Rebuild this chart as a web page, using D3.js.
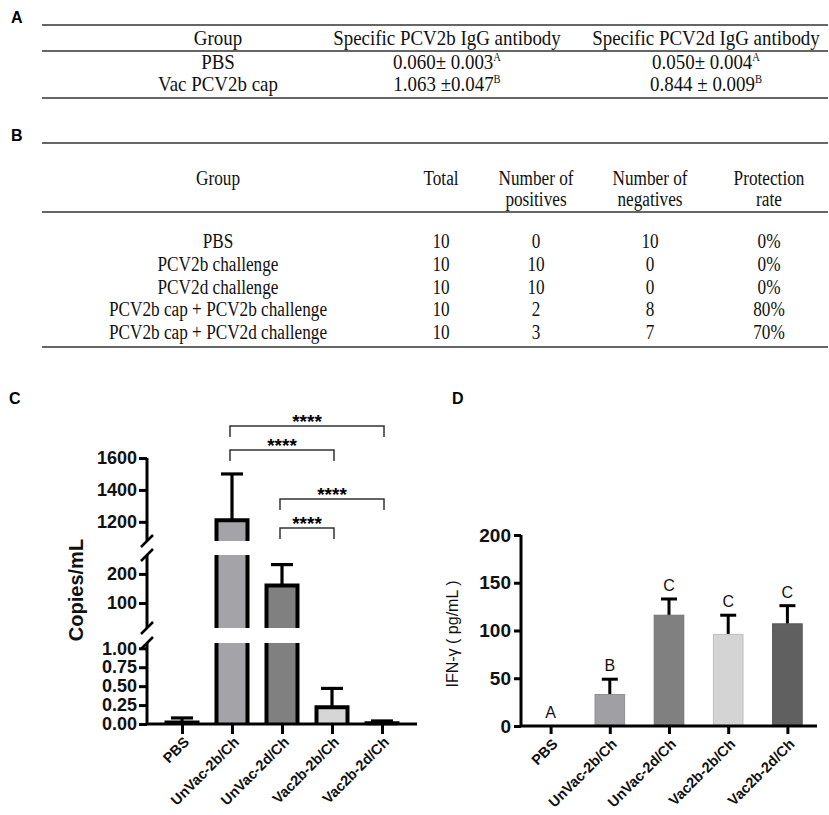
<!DOCTYPE html>
<html>
<head>
<meta charset="utf-8">
<script src="https://cdn.jsdelivr.net/npm/d3@7"></script>
<style>
  body { margin: 0; background: #fff; }
  svg { display: block; }
</style>
</head>
<body>
<svg id="fig" width="829" height="815"></svg>
<script>
// ---- table A data
const tableAHeader = ["Group", "Specific PCV2b IgG antibody", "Specific PCV2d IgG antibody"];
const tableAGroups = ["PBS", "Vac PCV2b cap"];
const tableA2b = ["0.060± 0.003", "1.063 ±0.047"];
const tableA2d = ["0.050± 0.004", "0.844 ± 0.009"];
const tableALetters = ["A", "B"];

// ---- table B data
const tableBHeader = [["Group"], ["Total"], ["Number of", "positives"], ["Number of", "negatives"], ["Protection", "rate"]];
const tableBGroups = ["PBS", "PCV2b challenge", "PCV2d challenge", "PCV2b cap + PCV2b challenge", "PCV2b cap + PCV2d challenge"];
const tableBTotal = [10, 10, 10, 10, 10];
const tableBPos = [0, 10, 10, 2, 3];
const tableBNeg = [10, 0, 0, 8, 7];
const tableBRate = ["0%", "0%", "0%", "80%", "70%"];

// ---- chart C / D data
const groups = ["PBS", "UnVac-2b/Ch", "UnVac-2d/Ch", "Vac2b-2b/Ch", "Vac2b-2d/Ch"];
const copiesMean = [0.02, 1210, 160, 0.22, 0.01];
const copiesErr = [0.08, 1500, 232, 0.47, 0.04]; // top of error bar
const copiesTicksLow = [0, 0.25, 0.5, 0.75, 1.0];
const copiesTicksMid = [100, 200];
const copiesTicksHigh = [1200, 1400, 1600];
const sigPairs = [["UnVac-2b/Ch", "Vac2b-2d/Ch"], ["UnVac-2b/Ch", "Vac2b-2b/Ch"], ["UnVac-2d/Ch", "Vac2b-2d/Ch"], ["UnVac-2d/Ch", "Vac2b-2b/Ch"]];
const sigLabels = ["****", "****", "****", "****"];

const ifnMean = [0, 33, 116, 96, 107];
const ifnErr = [0, 49, 133, 116, 126];
const ifnLetters = ["A", "B", "C", "C", "C"];
const ifnTicks = [0, 50, 100, 150, 200];

const svg = d3.select("#fig");
const serif = "'Liberation Serif', 'Times New Roman', serif";
const sans = "Arial, 'Liberation Sans', sans-serif";

function panelLabel(txt, x, y) {
	svg.append("text").attr("x", x).attr("y", y)
		.attr("font-family", sans).attr("font-weight", "bold").attr("font-size", 16)
		.text(txt);
}

// table cell: tall narrow serif like the scanned table
function cell(g, x, y, sx) {
	return g.append("text")
		.attr("transform", `translate(${x},${y}) scale(${sx},1)`)
		.attr("text-anchor", "middle");
}

// ================= A =================
panelLabel("A", 11, 23);
const gA = svg.append("g").attr("font-family", serif).attr("font-size", 21.5).attr("fill", "#111");
const sxA = 0.88;
const colA = [218, 447, 706];
[25, 51, 98].forEach((y) => {
	gA.append("line").attr("x1", 42).attr("x2", 828).attr("y1", y).attr("y2", y)
		.attr("stroke", "#333").attr("stroke-width", 1.6);
});
tableAHeader.forEach((h, i) => cell(gA, colA[i], 45, sxA).text(h));
tableAGroups.forEach((grp, i) => {
	const y = 69 + i * 22;
	cell(gA, colA[0], y, sxA).text(grp);
	[tableA2b, tableA2d].forEach((col, c) => {
		const t = cell(gA, colA[c + 1], y, sxA);
		t.append("tspan").text(col[i]);
		t.append("tspan").attr("dy", -8).attr("font-size", 12).text(tableALetters[i]);
	});
});

// ================= B =================
panelLabel("B", 11, 141);
const gB = svg.append("g").attr("font-family", serif).attr("font-size", 20.5).attr("fill", "#111");
const sxB = 0.84;
const colB = [218, 441, 536, 650, 769];
[143, 212, 347].forEach((y) => {
	gB.append("line").attr("x1", 42).attr("x2", 828).attr("y1", y).attr("y2", y)
		.attr("stroke", "#333").attr("stroke-width", 1.6);
});
tableBHeader.forEach((lines, i) => {
	lines.forEach((l, k) => cell(gB, colB[i], 185 + k * 21, sxB).text(l));
});
const tableBRows = tableBGroups.map((g, i) => [g, tableBTotal[i], tableBPos[i], tableBNeg[i], tableBRate[i]]);
tableBRows.forEach((row, r) => {
	row.forEach((v, c) => cell(gB, colB[c], 248 + r * 22.8, sxB).text(v));
});

// ================= C =================
panelLabel("C", 9, 404);
const gC = svg.append("g");
const xC = d3.scalePoint().domain(groups).range([147, 417]).padding(0.7);
const bwC = xC.step() * 0.62;
const baseC = 724;
const segs = [
	{ y: d3.scaleLinear().domain([0, 1.07]).range([baseC, 643]), ticks: copiesTicksLow, fmt: d3.format(".2f") },
	{ y: d3.scaleLinear().domain([14, 265]).range([628, 555]), ticks: copiesTicksMid, fmt: d3.format("d") },
	{ y: d3.scaleLinear().domain([1080, 1600]).range([541, 458]), ticks: copiesTicksHigh, fmt: d3.format("d") }
];
const colorC = d3.scaleOrdinal().domain(groups).range(["#ffffff", "#a4a4a8", "#808080", "#d6d6d6", "#ffffff"]);

segs.forEach((s, si) => {
	const [lo, hi] = s.y.domain();
	const bars = groups.map((g, i) => ({ g, i, m: copiesMean[i], e: copiesErr[i] }))
		.filter((d) => d.m > lo);
	const bg = gC.append("g");
	bars.forEach((d) => {
		const x0 = xC(d.g) - bwC / 2;
		const top = Math.min(d.m, hi);
		const bot = si === 0 ? 0 : lo;
		const yT = s.y(top), yB = s.y(bot);
		// error bar (only where the mean ends in this segment)
		if (d.m <= hi) {
			bg.append("line").attr("x1", xC(d.g)).attr("x2", xC(d.g))
				.attr("y1", s.y(d.m)).attr("y2", s.y(d.e)).attr("stroke", "#000").attr("stroke-width", 3.2);
			bg.append("line").attr("x1", xC(d.g) - 11).attr("x2", xC(d.g) + 11)
				.attr("y1", s.y(d.e)).attr("y2", s.y(d.e)).attr("stroke", "#000").attr("stroke-width", 3.2);
		}
		bg.append("rect").attr("x", x0).attr("y", yT).attr("width", bwC).attr("height", Math.max(0, yB - yT))
			.attr("fill", colorC(d.g));
		let p = `M${x0},${yB}L${x0},${yT}`;
		if (d.m <= hi) p += `L${x0 + bwC},${yT}`; else p += `M${x0 + bwC},${yT}`;
		p += `L${x0 + bwC},${yB}`;
		bg.append("path").attr("d", p).attr("fill", "none").attr("stroke", "#000").attr("stroke-width", 4);
	});
	// axis segment
	const ax = gC.append("g").attr("transform", "translate(147,0)")
		.call(d3.axisLeft(s.y).tickValues(s.ticks).tickFormat(s.fmt).tickSize(8).tickPadding(2));
	ax.select(".domain").attr("d", `M0,${s.y.range()[0]}V${s.y.range()[1]}`).attr("stroke-width", 3);
	ax.selectAll(".tick line").attr("stroke-width", 3);
	ax.selectAll(".tick text").attr("font-family", sans).attr("font-weight", "bold")
		.attr("font-size", 18).attr("fill", "#111");
	// break slashes
	const ends = [];
	if (si > 0) ends.push(s.y.range()[0]);
	if (si < segs.length - 1) ends.push(s.y.range()[1]);
	ends.forEach((yy) => {
		gC.append("line").attr("x1", 141).attr("x2", 153).attr("y1", yy + 6).attr("y2", yy - 6)
			.attr("stroke", "#000").attr("stroke-width", 2.5);
	});
});

// x axis C
const axC = gC.append("g").attr("transform", `translate(0,${baseC})`)
	.call(d3.axisBottom(xC).tickSize(10).tickFormat(""));
axC.select(".domain").attr("d", "M147,0H417").attr("stroke-width", 3);
axC.selectAll(".tick line").attr("stroke-width", 3);
gC.selectAll("text.xl").data(groups).join("text").attr("class", "xl")
	.attr("transform", (d) => `translate(${xC(d) + 8},${baseC + 19}) rotate(-45)`)
	.attr("text-anchor", "end").attr("font-family", sans).attr("font-weight", "bold")
	.attr("font-size", 14.5).attr("fill", "#111").text((d) => d);

gC.append("text").attr("transform", "translate(83,590) rotate(-90)")
	.attr("text-anchor", "middle").attr("font-family", sans).attr("font-weight", "bold")
	.attr("font-size", 20).attr("fill", "#111").text("Copies/mL");

// significance brackets
const sigY = [426, 450, 499, 528];
sigPairs.forEach((pr, i) => {
	const xa = xC(pr[0]) - 2, xb = xC(pr[1]) + 2, yy = sigY[i];
	gC.append("path").attr("d", `M${xa},${yy + 11}V${yy}H${xb}V${yy + 11}`)
		.attr("fill", "none").attr("stroke", "#333").attr("stroke-width", 1.5);
	gC.append("text").attr("x", (xa + xb) / 2).attr("y", yy + 2).attr("text-anchor", "middle")
		.attr("font-family", sans).attr("font-weight", "bold").attr("font-size", 19).text(sigLabels[i]);
});

// ================= D =================
panelLabel("D", 452, 404);
const gD = svg.append("g");
const xD = d3.scalePoint().domain(groups).range([521, 817]).padding(0.5);
const yD = d3.scaleLinear().domain([0, 200]).range([726, 535]);
const bwD = xD.step() * 0.5;
const colorD = d3.scaleOrdinal().domain(groups).range(["#ffffff", "#a0a0a4", "#808080", "#d4d4d4", "#606060"]);

groups.forEach((g, i) => {
	const cx = xD(g);
	if (ifnErr[i] > ifnMean[i]) {
		gD.append("line").attr("x1", cx).attr("x2", cx).attr("y1", yD(ifnMean[i])).attr("y2", yD(ifnErr[i]))
			.attr("stroke", "#000").attr("stroke-width", 3);
		gD.append("line").attr("x1", cx - 8).attr("x2", cx + 8).attr("y1", yD(ifnErr[i])).attr("y2", yD(ifnErr[i]))
			.attr("stroke", "#000").attr("stroke-width", 3);
	}
	gD.append("rect").attr("x", cx - bwD / 2).attr("y", yD(ifnMean[i])).attr("width", bwD)
		.attr("height", yD(0) - yD(ifnMean[i])).attr("fill", colorD(g))
		.attr("stroke", d3.color(colorD(g)).darker(0.3)).attr("stroke-width", 1);
	gD.append("text").attr("x", cx).attr("y", yD(ifnErr[i]) - 8).attr("text-anchor", "middle")
		.attr("font-family", sans).attr("font-size", 16).attr("fill", "#111").text(ifnLetters[i]);
});

const ayD = gD.append("g").attr("transform", "translate(521,0)")
	.call(d3.axisLeft(yD).tickValues(ifnTicks).tickSize(7).tickPadding(3));
ayD.select(".domain").attr("d", `M0,${yD(0)}V${yD(200)}`).attr("stroke-width", 3);
ayD.selectAll(".tick line").attr("stroke-width", 3);
ayD.selectAll(".tick text").attr("font-family", sans).attr("font-weight", "bold")
	.attr("font-size", 19).attr("fill", "#111");

const axD = gD.append("g").attr("transform", `translate(0,${yD(0)})`)
	.call(d3.axisBottom(xD).tickSize(8).tickFormat(""));
axD.select(".domain").attr("d", "M521,0H817").attr("stroke-width", 3);
axD.selectAll(".tick line").attr("stroke-width", 3);
gD.selectAll("text.xl").data(groups).join("text").attr("class", "xl")
	.attr("transform", (d) => `translate(${xD(d) + 8},${yD(0) + 19}) rotate(-45)`)
	.attr("text-anchor", "end").attr("font-family", sans).attr("font-weight", "bold")
	.attr("font-size", 14.5).attr("fill", "#111").text((d) => d);

gD.append("text").attr("transform", "translate(458,634) rotate(-90)")
	.attr("text-anchor", "middle").attr("font-family", sans)
	.attr("font-size", 16).attr("fill", "#111").text("IFN-γ ( pg/mL )");
</script>
</body>
</html>
